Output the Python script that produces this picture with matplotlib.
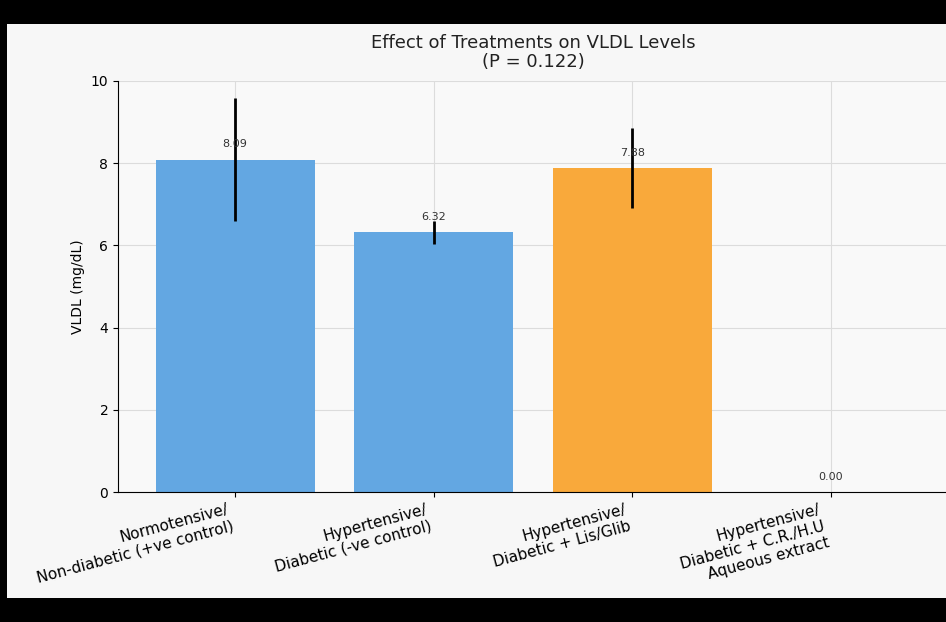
import matplotlib

matplotlib.use("Agg")
import matplotlib.pyplot as plt
from matplotlib.patches import Rectangle

# 群ごとの VLDL 平均値と標準偏差
groups = [
    "Normotensive/\nNon-diabetic (+ve control)",
    "Hypertensive/\nDiabetic (-ve control)",
    "Hypertensive/\nDiabetic + Lis/Glib",
    "Hypertensive/\nDiabetic + C.R./H.U\nAqueous extract",
]
vldl_mean = [8.09, 6.32, 7.88, 0.00]
vldl_sd = [1.49, 0.28, 0.97, 0.00]
bar_colors = ["#63a7e2", "#63a7e2", "#f9a93b", "#63a7e2"]
p_value = 0.122

W, H = 946, 622
fig = plt.figure(figsize=(W / 100, H / 100), dpi=100, facecolor="black")

# 黒枠の内側の明るいパネル（軸より後ろに置く）
fig.patches.append(
    Rectangle((7 / W, 1 - 598 / H), 1, (598 - 24) / H,
              transform=fig.transFigure, facecolor="#f7f7f7",
              edgecolor="none", zorder=-1)
)

left, right, top, bottom = 118, 948, 81, 492
ax = fig.add_axes([left / W, 1 - bottom / H, (right - left) / W, (bottom - top) / H])
ax.set_facecolor("#f9f9f9")

x = list(range(len(groups)))
ax.bar(x, vldl_mean, width=0.8, color=bar_colors, zorder=2)
ax.errorbar(x, vldl_mean, yerr=vldl_sd, fmt="none", ecolor="black",
            elinewidth=2, capsize=0, zorder=3)
for xi, v in zip(x, vldl_mean):
    ax.text(xi, v + 0.25, f"{v:.2f}", ha="center", va="bottom",
            fontsize=8, color="#333333", zorder=4)

ax.set_ylim(0, 10)
ax.set_xticks(x)
ax.set_xticklabels(groups, rotation=15, ha="right", fontsize=11)
ax.tick_params(axis="y", labelsize=10)
ax.set_ylabel("VLDL (mg/dL)", fontsize=10)
ax.set_title(f"Effect of Treatments on VLDL Levels\n(P = {p_value:.3f})",
             fontsize=13, color="#222222", pad=10, linespacing=1.1)

ax.grid(True, color="#dcdcdc", linewidth=0.8)
ax.set_axisbelow(True)
ax.spines["top"].set_visible(False)
ax.spines["right"].set_visible(False)

fig.savefig("out.png", dpi=100, facecolor=fig.get_facecolor())
